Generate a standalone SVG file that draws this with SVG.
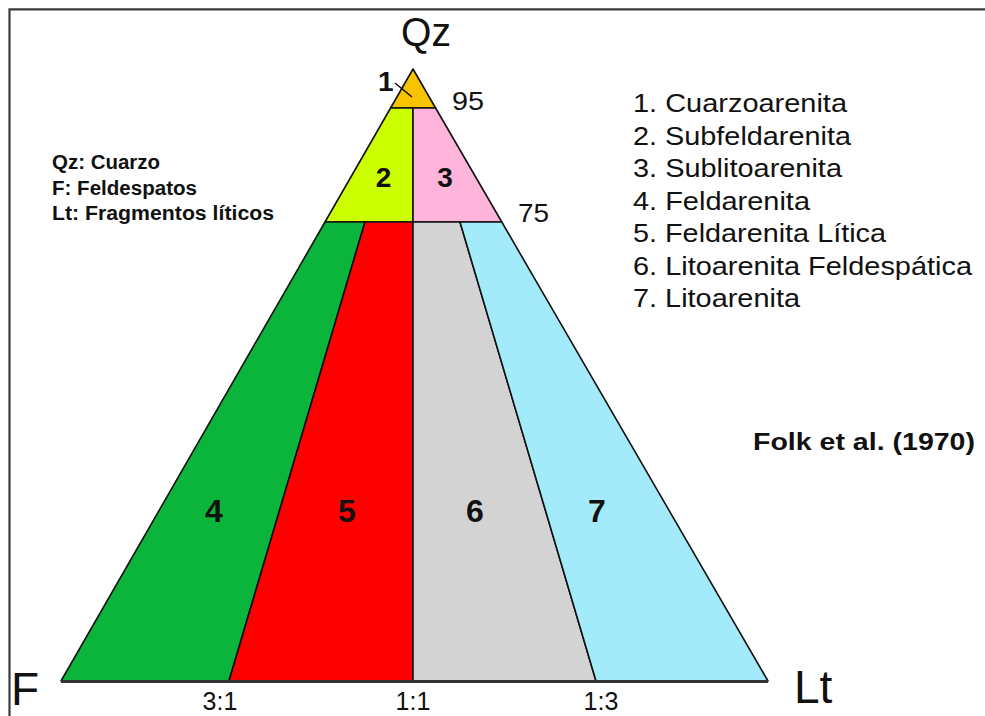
<svg xmlns="http://www.w3.org/2000/svg" width="985" height="716" viewBox="0 0 985 716">
<style>
text{font-family:"Liberation Sans",Arial,sans-serif;fill:#111}
.reg{stroke:#111;stroke-width:1.6;stroke-linejoin:round}
.num{font-weight:bold;text-anchor:middle}
.leg{font-size:25px}
.key{font-size:20px;font-weight:bold}
.ratio{font-size:25px;text-anchor:middle}
.pct{font-size:26px}
.corner{font-size:46px}
</style>
<rect x="0" y="0" width="985" height="716" fill="#fff"/>
<path d="M9.5 716 V9.3 H985" fill="none" stroke="#3c3c3c" stroke-width="2.2"/>

<g id="title-qz"><text x="401" y="46" font-size="41" textLength="50" lengthAdjust="spacingAndGlyphs">Qz</text></g>

<g id="region-1">
<polygon class="reg" points="413,69 435.6,108 390.6,108" fill="#F8C400"/>
<line x1="395" y1="83" x2="412" y2="97" stroke="#111" stroke-width="1.6"/>
<text x="378" y="91" font-size="28" font-weight="bold">1</text>
</g>
<g id="region-2">
<polygon class="reg" points="390.6,108 413,108 413,222 325,222" fill="#CCFF00"/>
<text class="num" x="383.5" y="187" font-size="28">2</text>
</g>
<g id="region-3">
<polygon class="reg" points="413,108 435.6,108 501.8,222 413,222" fill="#FFB5DB"/>
<text class="num" x="445" y="187" font-size="28">3</text>
</g>
<g id="region-4">
<polygon class="reg" points="325,222 365,222 229,681 61,681" fill="#0BB53C"/>
<text class="num" x="214" y="522" font-size="32">4</text>
</g>
<g id="region-5">
<polygon class="reg" points="365,222 413,222 413,681 229,681" fill="#FF0000"/>
<text class="num" x="347" y="522" font-size="32">5</text>
</g>
<g id="region-6">
<polygon class="reg" points="413,222 460,222 596,681 413,681" fill="#D3D3D3"/>
<text class="num" x="475" y="522" font-size="32">6</text>
</g>
<g id="region-7">
<polygon class="reg" points="460,222 501.8,222 768,681 596,681" fill="#A3EBFA"/>
<text class="num" x="597" y="522" font-size="32">7</text>
</g>
<g id="base">
<line x1="61" y1="681.5" x2="768" y2="681.5" stroke="#333" stroke-width="3"/>
</g>

<g id="percent-labels">
<text class="pct" x="452" y="110" textLength="32" lengthAdjust="spacingAndGlyphs">95</text>
<text class="pct" x="518" y="222" textLength="31" lengthAdjust="spacingAndGlyphs">75</text>
</g>

<g id="ratio-labels">
<text class="ratio" x="220" y="710">3:1</text>
<text class="ratio" x="413" y="710">1:1</text>
<text class="ratio" x="601" y="710">1:3</text>
</g>

<g id="corner-labels">
<text class="corner" x="11" y="705">F</text>
<text class="corner" x="794" y="703">Lt</text>
</g>

<g id="key">
<text class="key" x="52" y="169" textLength="108" lengthAdjust="spacingAndGlyphs">Qz: Cuarzo</text>
<text class="key" x="52" y="195" textLength="145" lengthAdjust="spacingAndGlyphs">F: Feldespatos</text>
<text class="key" x="52" y="220" textLength="222" lengthAdjust="spacingAndGlyphs">Lt: Fragmentos líticos</text>
</g>

<g id="legend">
<text class="leg" x="633" y="112" textLength="214" lengthAdjust="spacingAndGlyphs">1. Cuarzoarenita</text>
<text class="leg" x="633" y="144.5" textLength="218" lengthAdjust="spacingAndGlyphs">2. Subfeldarenita</text>
<text class="leg" x="633" y="177" textLength="209" lengthAdjust="spacingAndGlyphs">3. Sublitoarenita</text>
<text class="leg" x="633" y="209.5" textLength="177" lengthAdjust="spacingAndGlyphs">4. Feldarenita</text>
<text class="leg" x="633" y="242" textLength="253" lengthAdjust="spacingAndGlyphs">5. Feldarenita Lítica</text>
<text class="leg" x="633" y="274.5" textLength="339" lengthAdjust="spacingAndGlyphs">6. Litoarenita Feldespática</text>
<text class="leg" x="633" y="307" textLength="167" lengthAdjust="spacingAndGlyphs">7. Litoarenita</text>
</g>

<g id="source">
<text x="753" y="450" font-size="24" font-weight="bold" textLength="222" lengthAdjust="spacingAndGlyphs">Folk et al. (1970)</text>
</g>
</svg>
